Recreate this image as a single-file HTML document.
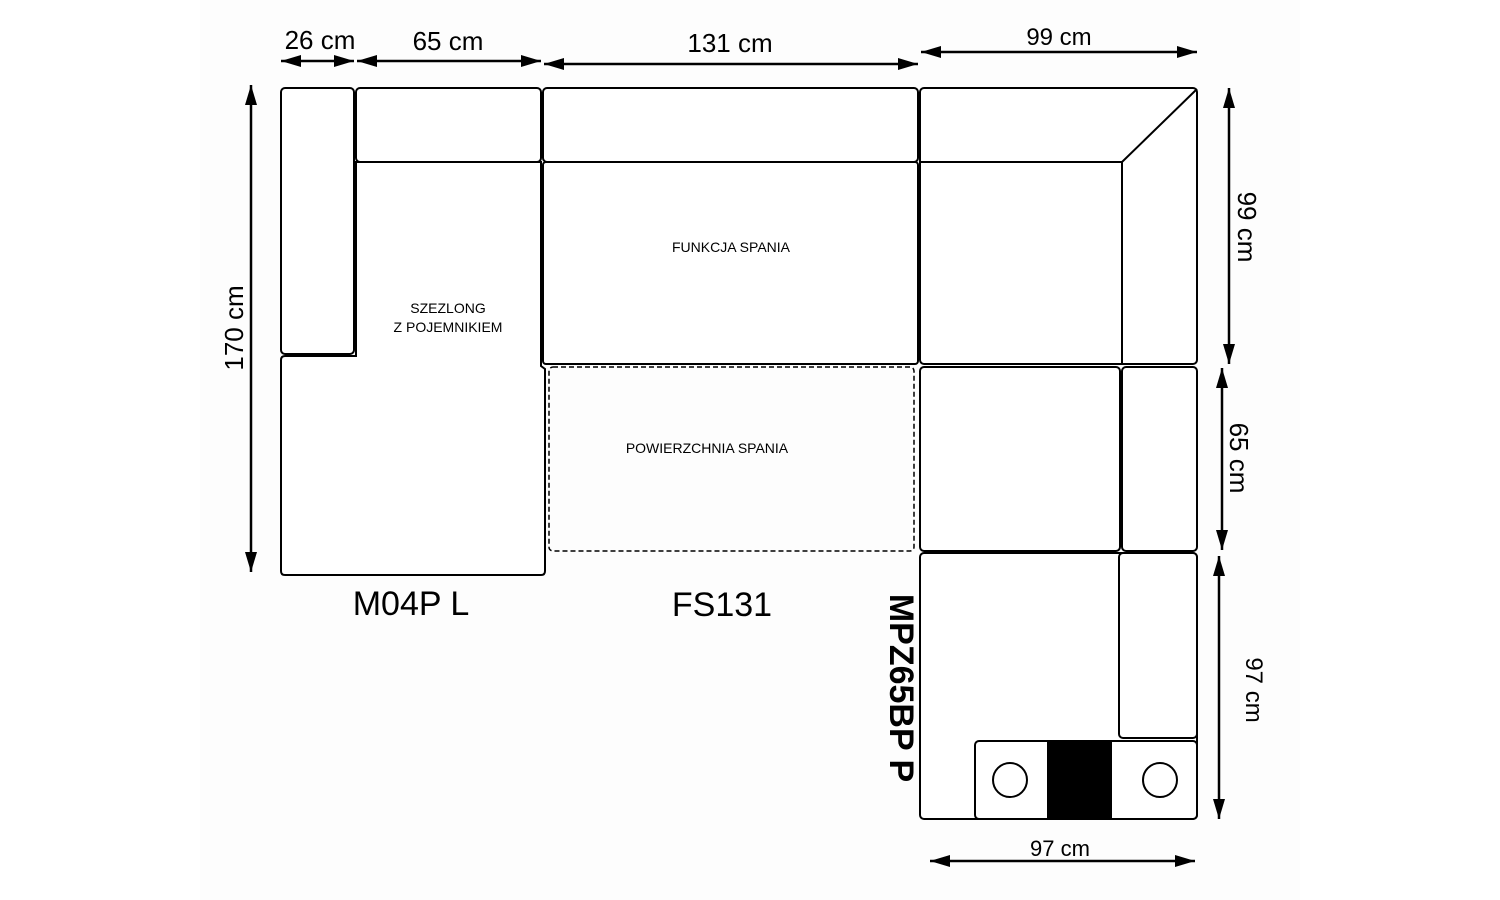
<!DOCTYPE html>
<html><head><style>
html,body{margin:0;padding:0;background:#fff;}
svg{display:block;}
text{font-family:"Liberation Sans",sans-serif;fill:#000;}
</style></head><body>
<svg width="1500" height="900" viewBox="0 0 1500 900" xmlns="http://www.w3.org/2000/svg">
<defs>
<marker id="a" viewBox="0 0 20 12" refX="20" refY="6" markerWidth="20" markerHeight="12" orient="auto-start-reverse" markerUnits="userSpaceOnUse"><path d="M0,0 L20,6 L0,12 Z" fill="#000"/></marker>
</defs>
<rect x="200" y="0" width="1100" height="900" fill="#fdfdfd"/>
<g fill="#fff" stroke="#000" stroke-width="2">
<rect x="281" y="88" width="73" height="266" rx="4"/>
<rect x="356" y="88" width="185" height="74" rx="4"/>
<path d="M356,162 H541 V366 L545,369 V571 Q545,575 541,575 H285 Q281,575 281,571 V360 Q281,356 285,356 H356 Z"/>
<rect x="543" y="88" width="375" height="74" rx="4"/>
<rect x="543" y="162" width="375" height="202" rx="3"/>
<rect x="920" y="88" width="277" height="276" rx="4"/>
<rect x="920" y="367" width="200" height="184" rx="4"/>
<rect x="1122" y="367" width="75" height="184" rx="4"/>
<rect x="920" y="553" width="277" height="266" rx="4"/>
<rect x="1119" y="553" width="78" height="185" rx="4"/>
<rect x="975" y="741" width="222" height="78" rx="4"/>
</g>
<g stroke="#000" stroke-width="2" fill="none">
<path d="M1197,89 L1122,162 H920 M1122,162 V364"/>
<rect x="549" y="367" width="365" height="184" rx="4" stroke-dasharray="5,3" stroke-width="1.5"/>
<circle cx="1010" cy="780" r="17"/>
<circle cx="1160" cy="780" r="17"/>
</g>
<rect x="1047" y="741" width="65" height="78" fill="#000"/>
<g stroke="#000" stroke-width="2.5" marker-start="url(#a)" marker-end="url(#a)">
<line x1="281" y1="61" x2="354" y2="61"/>
<line x1="357" y1="61" x2="541" y2="61"/>
<line x1="544" y1="64" x2="918" y2="64"/>
<line x1="921" y1="52" x2="1197" y2="52"/>
<line x1="251" y1="85" x2="251" y2="572"/>
<line x1="1229" y1="88" x2="1229" y2="364"/>
<line x1="1222" y1="368" x2="1222" y2="550"/>
<line x1="1219" y1="556" x2="1219" y2="819"/>
<line x1="930" y1="861" x2="1195" y2="861"/>
</g>
<g font-size="26" text-anchor="middle">
<text x="320" y="49">26 cm</text>
<text x="448" y="50">65 cm</text>
<text x="730" y="52">131 cm</text>
<text x="1059" y="45" font-size="24">99 cm</text>
<text x="1060" y="856" font-size="22">97 cm</text>
<text transform="translate(243,328) rotate(-90)">170 cm</text>
<text transform="translate(1238,227) rotate(90)">99 cm</text>
<text transform="translate(1230,458) rotate(90)">65 cm</text>
<text transform="translate(1246,690) rotate(90)" font-size="24">97 cm</text>
</g>
<g font-size="34" text-anchor="middle">
<text x="411" y="615">M04P L</text>
<text x="722" y="616">FS131</text>
<text transform="translate(890,688) rotate(90)" font-weight="bold">MPZ65BP P</text>
</g>
<g font-size="14" text-anchor="middle">
<text x="731" y="252">FUNKCJA SPANIA</text>
<text x="448" y="313">SZEZLONG</text>
<text x="448" y="332">Z POJEMNIKIEM</text>
<text x="707" y="453">POWIERZCHNIA SPANIA</text>
</g>
</svg>
</body></html>
